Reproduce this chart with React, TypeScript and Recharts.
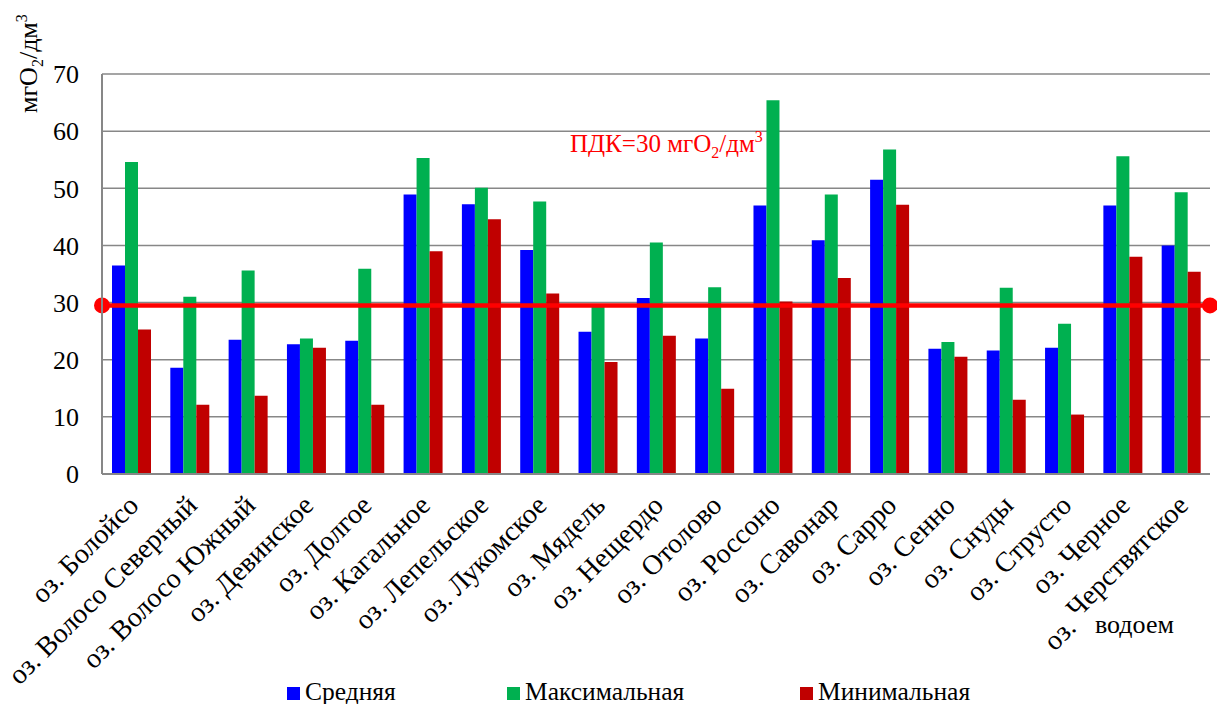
import {
  ComposedChart,
  Bar,
  XAxis,
  YAxis,
  CartesianGrid,
  ReferenceLine,
  Legend,
} from 'recharts'

const lakes = [
  'оз. Болойсо',
  'оз. Волосо Северный',
  'оз. Волосо Южный',
  'оз. Девинское',
  'оз. Долгое',
  'оз. Кагальное',
  'оз. Лепельское',
  'оз. Лукомское',
  'оз. Мядель',
  'оз. Нещердо',
  'оз. Отолово',
  'оз. Россоно',
  'оз. Савонар',
  'оз. Сарро',
  'оз. Сенно',
  'оз. Снуды',
  'оз. Струсто',
  'оз. Черное',
  'оз. Черствятское',
]

const avgValues = [36.5, 18.6, 23.5, 22.7, 23.3, 48.9, 47.2, 39.2, 24.9, 30.8, 23.7, 47.0, 40.9, 51.5, 21.9, 21.6, 22.1, 47.0, 40.0]
const maxValues = [54.6, 31.0, 35.6, 23.7, 35.9, 55.3, 50.1, 47.7, 29.6, 40.5, 32.7, 65.4, 48.9, 56.8, 23.1, 32.6, 26.3, 55.6, 49.3]
const minValues = [25.3, 12.1, 13.7, 22.1, 12.1, 39.0, 44.6, 31.6, 19.6, 24.2, 14.9, 30.2, 34.3, 47.1, 20.5, 13.0, 10.4, 38.0, 35.4]

const yTicks = [0, 10, 20, 30, 40, 50, 60, 70]
const pdkLevel = 29.5

const seriesNames = ['Средняя', 'Максимальная', 'Минимальная']
const seriesColors = ['#0000FF', '#00B050', '#C00000']

const data = lakes.map((name, i) => ({
  name,
  avg: avgValues[i],
  max: maxValues[i],
  min: minValues[i],
}))

const FONT = 'Liberation Serif, Times New Roman, DejaVu Serif, serif'
const GRID = '#878787'

function LakeTick(props: any) {
  const { x, payload } = props
  const tx = x + 9
  const ty = 507
  const label: string = payload.value
  // the last label is split in the source: "оз." sits a little lower
  const parts = label === lakes[lakes.length - 1] ? label.split(' ') : null
  return (
    <text
      x={tx}
      y={ty}
      textAnchor="end"
      style={{ fontFamily: FONT }}
      fontSize={28}
      fill="#000"
      transform={`rotate(-45, ${tx}, ${ty})`}
    >
      {parts ? (
        <>
          <tspan dy={7}>{parts[0]}</tspan>
          <tspan dy={-7}>{' ' + parts.slice(1).join(' ')}</tspan>
        </>
      ) : (
        label
      )}
    </text>
  )
}

function PdkLine(props: any) {
  const { x1, y1, x2, y2 } = props
  return (
    <g>
      <line x1={x1} y1={y1} x2={x2} y2={y2} stroke="#FF0000" strokeWidth={4.5} />
      <circle cx={x1} cy={y1} r={8} fill="#FF0000" />
      <circle cx={x2} cy={y2} r={8} fill="#FF0000" />
    </g>
  )
}

function PdkLabel(props: any) {
  const vb = props.viewBox || { x: 102, y: 306 }
  return (
    <text x={vb.x + 468} y={vb.y - 153} style={{ fontFamily: FONT }} fontSize={25} fill="#FF0000">
      <tspan>ПДК=30 мгО</tspan>
      <tspan dy={6} fontSize={16}>2</tspan>
      <tspan dy={-6}>/дм</tspan>
      <tspan dy={-10} fontSize={16}>3</tspan>
    </text>
  )
}

function LegendBox() {
  const lefts = [287, 507, 800]
  return (
    <div style={{ position: 'relative', width: 1217, height: 30, fontFamily: FONT, fontSize: 25.5 }}>
      {seriesNames.map((n, i) => (
        <div key={n} style={{ position: 'absolute', left: lefts[i], top: 3, display: 'flex', alignItems: 'center', lineHeight: 'normal', color: '#000' }}>
          <span style={{ display: 'inline-block', width: 13, height: 13, background: seriesColors[i], marginRight: 5, marginTop: 3 }} />
          <span>{n}</span>
        </div>
      ))}
    </div>
  )
}

export default function App() {
  return (
    <div style={{ position: 'absolute', left: 0, top: 0, width: 1217, height: 704, background: '#fff', fontFamily: FONT }}>
      <ComposedChart
        width={1217}
        height={704}
        data={data}
        margin={{ top: 74, right: 7, left: 0, bottom: 0 }}
        barGap={0}
        barSize={13}
        style={{ fontFamily: FONT }}
      >
        <CartesianGrid vertical={false} stroke={GRID} strokeWidth={1.5} />
        <XAxis
          dataKey="name"
          interval={0}
          height={200}
          tickLine={false}
          axisLine={{ stroke: GRID, strokeWidth: 2 }}
          tick={<LakeTick />}
          label={{
            content: () => (
              <text x={1095} y={633} style={{ fontFamily: FONT }} fontSize={26} fill="#000">
                водоем
              </text>
            ),
          }}
        />
        <YAxis
          width={102}
          domain={[0, 70]}
          ticks={yTicks}
          interval={0}
          tickLine={false}
          tickSize={0}
          tickMargin={23}
          axisLine={{ stroke: GRID, strokeWidth: 2 }}
          tick={{ style: { fontFamily: FONT }, fontSize: 26, fill: '#000' }}
          label={{
            content: () => (
              <text x={37} y={113} style={{ fontFamily: FONT }} fontSize={26} fill="#000" transform="rotate(-90, 37, 113)">
                <tspan>мгО</tspan>
                <tspan dy={6} fontSize={16}>2</tspan>
                <tspan dy={-6}>/дм</tspan>
                <tspan dy={-10} fontSize={16}>3</tspan>
              </text>
            ),
          }}
        />
        <Legend verticalAlign="bottom" height={30} wrapperStyle={{ left: 0, width: 1217 }} content={() => <LegendBox />} />
        <Bar dataKey="avg" name={seriesNames[0]} fill={seriesColors[0]} isAnimationActive={false} />
        <Bar dataKey="max" name={seriesNames[1]} fill={seriesColors[1]} isAnimationActive={false} />
        <Bar dataKey="min" name={seriesNames[2]} fill={seriesColors[2]} isAnimationActive={false} />
        <ReferenceLine
          y={pdkLevel}
          ifOverflow="visible"
          shape={<PdkLine />}
          label={<PdkLabel />}
        />
      </ComposedChart>
    </div>
  )
}
